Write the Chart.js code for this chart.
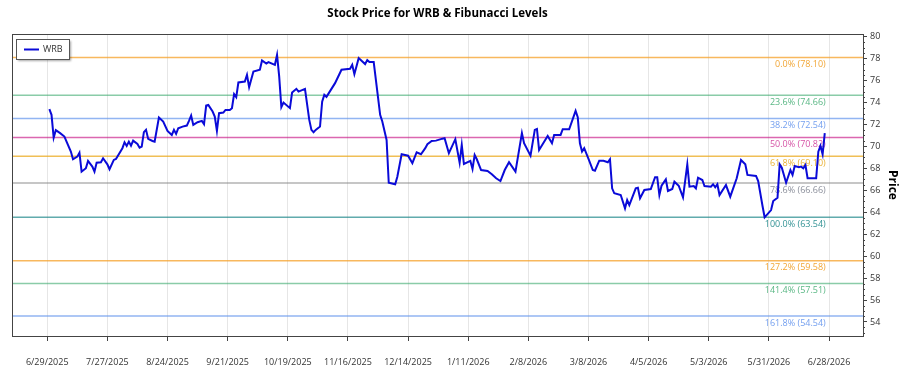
<!DOCTYPE html>
<html><head><meta charset="utf-8">
<script src="https://cdn.jsdelivr.net/npm/chart.js@4/dist/chart.umd.min.js"></script>
<style>html,body{margin:0;padding:0;background:#fff}#wrap{width:900px;height:375px;position:relative}</style>
</head><body><div id="wrap"><canvas id="c" width="900" height="375"></canvas></div>
<script>
const dates = [
'2025-06-30','2025-07-01','2025-07-02','2025-07-03','2025-07-05','2025-07-07','2025-07-08','2025-07-10','2025-07-11','2025-07-13',
'2025-07-14','2025-07-15','2025-07-17','2025-07-18','2025-07-20','2025-07-21','2025-07-22','2025-07-24','2025-07-25','2025-07-27',
'2025-07-28','2025-07-30','2025-07-31','2025-08-03','2025-08-04','2025-08-05','2025-08-06','2025-08-07','2025-08-08','2025-08-10',
'2025-08-11','2025-08-12','2025-08-13','2025-08-14','2025-08-15','2025-08-17','2025-08-18','2025-08-20','2025-08-22','2025-08-24',
'2025-08-26','2025-08-27','2025-08-28','2025-08-29','2025-08-31','2025-09-02','2025-09-03','2025-09-04','2025-09-05','2025-09-07',
'2025-09-09','2025-09-10','2025-09-11','2025-09-12','2025-09-14','2025-09-15','2025-09-16','2025-09-17','2025-09-19','2025-09-20',
'2025-09-22','2025-09-23','2025-09-24','2025-09-25','2025-09-26','2025-09-29','2025-09-30','2025-10-01','2025-10-03','2025-10-06',
'2025-10-07','2025-10-09','2025-10-10','2025-10-13','2025-10-14','2025-10-15','2025-10-16','2025-10-17','2025-10-20','2025-10-21',
'2025-10-23','2025-10-24','2025-10-27','2025-10-29','2025-10-30','2025-10-31','2025-11-01','2025-11-03','2025-11-04','2025-11-05',
'2025-11-06','2025-11-10','2025-11-13','2025-11-17','2025-11-18','2025-11-19','2025-11-21','2025-11-24','2025-11-25','2025-11-26',
'2025-11-28','2025-12-01','2025-12-02','2025-12-04','2025-12-05','2025-12-08','2025-12-09','2025-12-11','2025-12-14','2025-12-16',
'2025-12-18','2025-12-20','2025-12-22','2025-12-23','2025-12-25','2025-12-27','2025-12-30','2025-12-31','2026-01-02','2026-01-05',
'2026-01-07','2026-01-08','2026-01-09','2026-01-12','2026-01-13','2026-01-14','2026-01-15','2026-01-17','2026-01-20','2026-01-22',
'2026-01-24','2026-01-26','2026-01-28','2026-01-30','2026-02-02','2026-02-05','2026-02-06','2026-02-09','2026-02-11','2026-02-12',
'2026-02-13','2026-02-17','2026-02-19','2026-02-20','2026-02-23','2026-02-24','2026-02-27','2026-03-02','2026-03-03','2026-03-04',
'2026-03-05','2026-03-06','2026-03-08','2026-03-10','2026-03-11','2026-03-13','2026-03-15','2026-03-17','2026-03-18','2026-03-19',
'2026-03-20','2026-03-23','2026-03-25','2026-03-26','2026-03-27','2026-03-30','2026-03-31','2026-04-01','2026-04-03','2026-04-06',
'2026-04-08','2026-04-09','2026-04-10','2026-04-11','2026-04-13','2026-04-14','2026-04-16','2026-04-17','2026-04-19','2026-04-21',
'2026-04-23','2026-04-24','2026-04-26','2026-04-27','2026-04-28','2026-04-30','2026-05-01','2026-05-04','2026-05-05','2026-05-06',
'2026-05-07','2026-05-08','2026-05-11','2026-05-13','2026-05-16','2026-05-18','2026-05-20','2026-05-21','2026-05-25','2026-05-26',
'2026-05-28','2026-05-29','2026-06-01','2026-06-02','2026-06-04','2026-06-05','2026-06-06','2026-06-08','2026-06-10','2026-06-11',
'2026-06-12','2026-06-14','2026-06-15','2026-06-16','2026-06-17','2026-06-18','2026-06-22','2026-06-23','2026-06-24','2026-06-25',
'2026-06-26'
];
const prices = [
73.40,72.88,70.80,71.48,71.21,70.90,70.44,69.53,68.83,69.07,
69.43,67.70,68.01,68.68,68.16,67.70,68.52,68.56,68.92,68.37,
67.92,68.77,68.86,69.84,70.38,70.05,70.44,70.07,70.53,70.23,
69.89,69.99,71.30,71.51,70.69,70.50,70.44,72.63,72.27,71.42,
71.05,71.51,71.14,71.66,71.81,71.90,72.33,72.81,71.96,72.21,
72.33,72.03,73.73,73.79,73.18,72.72,71.42,73.03,73.09,73.33,
73.33,73.49,74.77,74.49,75.83,75.92,76.53,75.41,76.83,76.99,
77.84,77.56,77.69,77.44,78.35,76.37,73.58,74.00,73.49,74.91,
75.25,75.00,75.25,72.42,71.51,71.30,71.51,71.81,74.09,74.70,
74.52,75.77,76.99,77.08,77.44,76.59,78.05,77.51,77.87,77.69,
77.69,72.88,72.27,70.59,66.69,66.55,67.24,69.29,69.16,68.47,
69.47,69.29,69.84,70.20,70.50,70.53,70.71,70.75,69.38,70.66,
68.52,70.14,68.40,68.68,67.95,69.22,68.83,67.85,67.76,67.46,
67.10,66.85,67.85,68.56,67.70,71.21,70.29,69.16,71.51,71.60,
69.68,70.96,70.29,71.05,71.05,71.57,71.57,73.24,72.67,70.29,
69.53,69.84,68.86,67.85,67.79,68.70,68.70,68.56,68.83,66.18,
65.73,65.57,64.36,65.11,64.66,66.18,66.24,65.27,66.03,66.12,
67.19,67.19,65.57,66.42,67.00,65.94,66.12,66.79,66.42,65.36,
68.37,66.33,66.39,66.18,67.15,66.94,66.39,66.33,66.55,66.27,
66.55,65.57,66.48,65.42,67.10,68.77,68.37,67.40,67.31,66.85,
64.59,63.54,64.20,65.02,65.32,68.37,68.06,66.69,67.85,67.40,
68.22,68.10,68.16,68.01,68.31,67.10,67.10,69.53,70.05,69.29,
71.21
];
const seriesName = 'WRB';
const fibNames = ['0.0%','23.6%','38.2%','50.0%','61.8%','78.6%','100.0%','127.2%','141.4%','161.8%'];
const fibValues = [78.10,74.66,72.54,70.82,69.10,66.66,63.54,59.58,57.51,54.54];
const fibLineColors = ['rgba(245,160,40,0.75)','rgba(60,170,110,0.6)','rgba(100,149,237,0.7)','rgba(199,21,133,0.65)','rgba(235,170,30,0.75)','rgba(128,128,128,0.6)','rgba(30,135,138,0.7)','rgba(245,160,40,0.75)','rgba(60,170,110,0.6)','rgba(100,149,237,0.7)'];
const fibTextColors = ['rgba(240,155,30,0.9)','rgba(60,170,110,0.85)','rgba(100,149,237,0.9)','rgba(199,21,133,0.75)','rgba(230,165,20,0.85)','rgba(110,115,130,0.8)','rgba(30,135,138,0.9)','rgba(240,155,30,0.9)','rgba(60,170,110,0.85)','rgba(100,149,237,0.9)'];
const xTickDates = ['2025-06-29','2025-07-27','2025-08-24','2025-09-21','2025-10-19','2025-11-16','2025-12-14','2026-01-11','2026-02-08','2026-03-08','2026-04-05','2026-05-03','2026-05-31','2026-06-28'];
const chartTitle = 'Stock Price for WRB & Fibunacci Levels';
const yTitle = 'Price';

const BASE = Date.UTC(2025,5,29);
function dayOf(s){const p=s.split('-').map(Number);return (Date.UTC(p[0],p[1]-1,p[2])-BASE)/864e5;}
function fmt(v){const d=new Date(BASE+Math.round(v)*864e5);return (d.getUTCMonth()+1)+'/'+d.getUTCDate()+'/'+d.getUTCFullYear();}
const X_MIN=-16.4, X_MAX=379.8;
const FONT="'Open Sans', 'Segoe UI', sans-serif";

const datasets=[{label:seriesName,data:dates.map((d,i)=>({x:dayOf(d),y:prices[i]})),borderColor:'#0a0ad8',borderWidth:2,pointRadius:0,tension:0,fill:false}];
fibValues.forEach((v,i)=>datasets.push({label:fibNames[i],data:[{x:X_MIN,y:v},{x:X_MAX,y:v}],borderColor:fibLineColors[i],borderWidth:1.5,pointRadius:0,fill:false}));

const deco={id:'deco',
 beforeDatasetsDraw(chart){
  const ctx=chart.ctx,x=chart.scales.x,y=chart.scales.y;
  const lx=x.getPixelForValue(dayOf(dates[dates.length-1]))+1;
  ctx.save();ctx.font='9px '+FONT;ctx.textAlign='right';ctx.textBaseline='middle';
  fibValues.forEach((v,i)=>{ctx.fillStyle=fibTextColors[i];ctx.fillText(fibNames[i]+' ('+v.toFixed(2)+')',lx,y.getPixelForValue(v)+7);});
  ctx.restore();
 },
 afterDraw(chart){
  const ctx=chart.ctx,a=chart.chartArea,x=chart.scales.x,y=chart.scales.y;
  ctx.save();
  // x tick labels
  ctx.fillStyle='#333';ctx.font='9px '+FONT;ctx.textAlign='center';ctx.textBaseline='middle';
  xTickDates.forEach(d=>{const v=dayOf(d);ctx.fillText(fmt(v),x.getPixelForValue(v),362);});
  // minor ticks
  ctx.strokeStyle='#444';ctx.lineWidth=1;
  for(let v=53;v<=80.25;v+=0.5){if(Math.abs(v/2-Math.round(v/2))<1e-6)continue;const py=Math.round(y.getPixelForValue(v))+0.5;ctx.beginPath();ctx.moveTo(a.right,py);ctx.lineTo(a.right+2,py);ctx.stroke();}
  // frame
  ctx.strokeStyle='#444';ctx.lineWidth=1;
  ctx.strokeRect(Math.round(a.left)+0.5,Math.round(a.top)+0.5,Math.round(a.right-a.left),Math.round(a.bottom-a.top));
  // legend
  ctx.shadowColor='rgba(0,0,0,0.35)';ctx.shadowOffsetX=2;ctx.shadowOffsetY=2;ctx.shadowBlur=2;
  ctx.fillStyle='#fff';ctx.fillRect(16,39,53,20);
  ctx.shadowColor='transparent';ctx.shadowBlur=0;ctx.shadowOffsetX=0;ctx.shadowOffsetY=0;
  ctx.strokeStyle='#555';ctx.strokeRect(16.5,39.5,53,20);
  ctx.strokeStyle='#0a0ad8';ctx.lineWidth=2;ctx.beginPath();ctx.moveTo(24,49.5);ctx.lineTo(39,49.5);ctx.stroke();
  ctx.fillStyle='#333';ctx.font='9px '+FONT;ctx.textBaseline='middle';ctx.textAlign='left';ctx.fillText(seriesName,43,49.5);
  // title
  ctx.fillStyle='#000';ctx.font='bold 11.5px '+FONT;ctx.textAlign='center';ctx.fillText(chartTitle,437.5,14);
  ctx.restore();
 }};

new Chart(document.getElementById('c'),{
 type:'line',
 data:{datasets},
 options:{
  responsive:false,animation:false,devicePixelRatio:1,
  layout:{padding:{top:34,left:12,right:0,bottom:0}},
  plugins:{legend:{display:false},title:{display:false},tooltip:{enabled:false}},
  scales:{
   x:{type:'linear',min:X_MIN,max:X_MAX,
    afterBuildTicks(s){s.ticks=xTickDates.map(d=>({value:dayOf(d)}));},
    afterFit(s){s.height=39;},
    ticks:{display:false,autoSkip:false,maxRotation:0},
    grid:{color:'#e6e6e6',tickColor:'#444',tickLength:5,lineWidth:1},
    border:{display:true,color:'#444'}},
   y:{type:'linear',position:'right',min:52.72,max:80.25,
    afterFit(s){s.width=37;},
    ticks:{stepSize:2,includeBounds:false,color:'#333',padding:3,font:{size:9,family:FONT}},
    grid:{drawOnChartArea:false,tickColor:'#444',tickLength:4},
    border:{display:true,color:'#444'},
    title:{display:true,text:yTitle,color:'#000',font:{size:12,weight:'bold',family:FONT},padding:{top:0,bottom:2}}}
  }
 },
 plugins:[deco]
});
</script></body></html>
